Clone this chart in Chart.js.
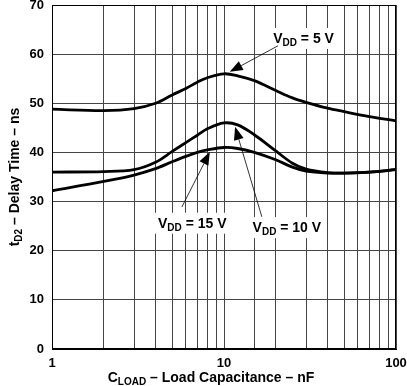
<!DOCTYPE html>
<html>
<head>
<meta charset="utf-8">
<script src="https://cdn.jsdelivr.net/npm/chart.js@4"></script>
<style>
html,body{margin:0;padding:0;background:#fff;}
#wrap{width:407px;height:386px;}
</style>
</head>
<body>
<div id="wrap"><canvas id="c" width="407" height="386"></canvas></div>
<script>
// Load capacitance (nF)
const caps = [1, 2, 3, 4, 5, 6, 7, 8, 10, 12, 15, 20, 25, 30, 40, 50, 70, 100];
// Delay time tD2 (ns)
const vdd5  = [48.8, 48.5, 48.9, 50.0, 51.7, 53.0, 54.3, 55.2, 56.0, 55.6, 54.6, 52.6, 51.1, 50.2, 49.0, 48.3, 47.3, 46.4];
const vdd10 = [36.0, 36.1, 36.5, 38.0, 40.2, 42.0, 43.5, 44.8, 46.0, 45.6, 43.6, 40.3, 37.8, 36.6, 35.9, 35.8, 36.0, 36.5];
const vdd15 = [32.2, 34.1, 35.4, 36.7, 38.1, 39.2, 40.0, 40.5, 41.0, 40.8, 40.0, 38.5, 37.0, 36.2, 35.8, 35.8, 36.0, 36.5];
const xTickLabels = [1, 10, 100];
const yTicks = [0, 10, 20, 30, 40, 50, 60, 70];

// Annotations (data units): label centre, arrow tail, arrow tip
const notes = [
  {sub: 'DD', val: ' = 5 V',  label: [29.0, 63.3], tail: [20.6, 61.7], tip: [10.8, 56.4]},
  {sub: 'DD', val: ' = 15 V', label: [6.54, 25.7], tail: [5.69, 28.9], tip: [8.27, 40.1]},
  {sub: 'DD', val: ' = 10 V', label: [23.2, 24.8], tail: [16.6, 26.9], tip: [11.6, 45.2]}
];

const FONT = '"Liberation Sans", Arial, Helvetica, sans-serif';

function toPts(ys){ return caps.map((x,i)=>({x:x, y:ys[i]})); }

function drawSubText(ctx, parts, x, y, align){
  let w = 0;
  parts.forEach(p=>{ ctx.font = 'bold '+p[1]+'px '+FONT; w += ctx.measureText(p[0]).width; });
  let cx = align === 'center' ? x - w/2 : x;
  parts.forEach(p=>{
    ctx.font = 'bold '+p[1]+'px '+FONT;
    ctx.fillText(p[0], cx, y + p[2]);
    cx += ctx.measureText(p[0]).width;
  });
  return w;
}

const overlay = {
  id: 'overlay',
  afterDraw(chart){
    const ctx = chart.ctx, xs = chart.scales.x, ys = chart.scales.y, a = chart.chartArea;
    ctx.save();
    ctx.strokeStyle = '#000'; ctx.lineWidth = 1;
    ctx.strokeRect(Math.round(a.left)+0.5, Math.round(a.top)+0.5, Math.round(a.right-a.left)-1, Math.round(a.bottom-a.top)-1);
    ctx.fillStyle = '#000'; ctx.textBaseline = 'alphabetic';
    notes.forEach(n=>{
      const lx = xs.getPixelForValue(n.label[0]), ly = ys.getPixelForValue(n.label[1]);
      const parts = [['V',14,0],[n.sub,10,3],[n.val,14,0]];
      let w = 0;
      parts.forEach(p=>{ ctx.font = 'bold '+p[1]+'px '+FONT; w += ctx.measureText(p[0]).width; });
      ctx.fillStyle = '#fff';
      ctx.fillRect(lx - w/2 - 4, ly - 10, w + 8, 21);
      ctx.fillStyle = '#000';
      drawSubText(ctx, parts, lx, ly + 5, 'center');
      const tx = xs.getPixelForValue(n.tail[0]), ty = ys.getPixelForValue(n.tail[1]);
      const hx = xs.getPixelForValue(n.tip[0]), hy = ys.getPixelForValue(n.tip[1]);
      const ang = Math.atan2(hy-ty, hx-tx);
      const L = 13, W = 5;
      const bx = hx - L*Math.cos(ang), by = hy - L*Math.sin(ang);
      ctx.strokeStyle = '#000'; ctx.lineWidth = 0.8;
      ctx.beginPath(); ctx.moveTo(tx, ty); ctx.lineTo(bx, by); ctx.stroke();
      ctx.beginPath();
      ctx.moveTo(hx, hy);
      ctx.lineTo(bx + W*Math.sin(ang), by - W*Math.cos(ang));
      ctx.lineTo(bx - W*Math.sin(ang), by + W*Math.cos(ang));
      ctx.closePath(); ctx.fill();
    });
    ctx.fillStyle = '#000';
    drawSubText(ctx, [['C',14,0],['LOAD',10,3],[' \u2013 Load Capacitance \u2013 nF',14,0]], 211, 382, 'center');
    ctx.translate(19, (a.top + a.bottom)/2);
    ctx.rotate(-Math.PI/2);
    drawSubText(ctx, [['t',14,0],['D2',10,3],[' \u2013 Delay Time \u2013 ns',14,0]], 0, 0, 'center');
    ctx.restore();
  }
};

const lineStyle = {borderColor:'#000', borderWidth:2.8, pointRadius:0, fill:false, tension:0.35};

function noPad(s){ s.paddingTop = 0; s.paddingBottom = 0; s.paddingLeft = 0; s.paddingRight = 0; }

new Chart(document.getElementById('c'), {
  type: 'line',
  data: {
    datasets: [
      Object.assign({label:'VDD = 5 V',  data: toPts(vdd5)},  lineStyle),
      Object.assign({label:'VDD = 10 V', data: toPts(vdd10)}, lineStyle),
      Object.assign({label:'VDD = 15 V', data: toPts(vdd15)}, lineStyle)
    ]
  },
  options: {
    responsive: false,
    animation: false,
    devicePixelRatio: 1,
    layout: {autoPadding: false, padding: {left: 0, right: 11, top: 5, bottom: 0}},
    plugins: {legend: {display:false}, tooltip: {enabled:false}},
    scales: {
      x: {
        type: 'logarithmic', min: 1, max: 100,
        grid: {color:'#444', lineWidth:1, drawTicks:false},
        border: {color:'#000', width:1},
        ticks: {
          padding: 7, color:'#000', maxRotation:0, autoSkip:false,
          font: {family: FONT, size: 13, weight: 'bold'},
          callback: (v) => xTickLabels.includes(v) ? String(v) : ''
        },
        afterFit: (s) => { s.height = 37; noPad(s); }
      },
      y: {
        min: 0, max: 70,
        afterBuildTicks: (s) => { s.ticks = yTicks.map(v=>({value:v})); },
        grid: {color:'#444', lineWidth:1, drawTicks:false},
        border: {color:'#000', width:1},
        ticks: {padding: 8, color:'#000', font: {family: FONT, size: 13, weight: 'bold'}},
        afterFit: (s) => { s.width = 52; noPad(s); }
      }
    }
  },
  plugins: [overlay]
});
</script>
</body>
</html>
